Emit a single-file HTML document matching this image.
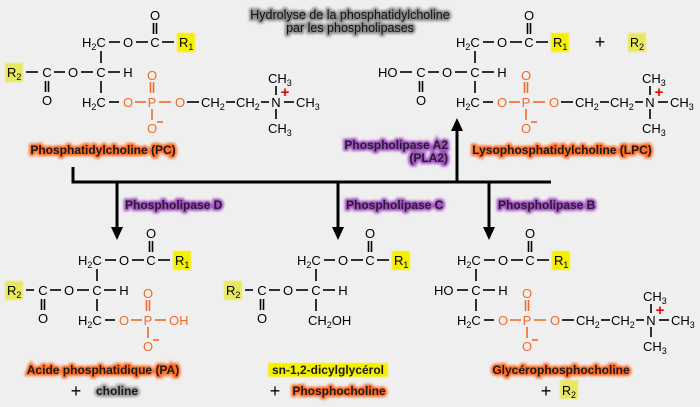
<!DOCTYPE html>
<html><head><meta charset="utf-8"><style>
html,body{margin:0;padding:0;background:#efefef}
svg{display:block}
text{font-family:"Liberation Sans",sans-serif}
</style></head><body>
<svg width="700" height="407" viewBox="0 0 700 407" xmlns="http://www.w3.org/2000/svg">
<defs>
<filter id="blur" x="-20%" y="-50%" width="140%" height="200%"><feGaussianBlur stdDeviation="1.3"/></filter>
<filter id="blur2" x="-20%" y="-50%" width="140%" height="200%"><feGaussianBlur stdDeviation="0.8"/></filter>
</defs>
<rect width="700" height="407" fill="#efefef"/>

<!-- Title -->
<g font-size="12.5" text-anchor="middle">
<text x="350" y="19" stroke="#888" stroke-width="4" fill="#888" filter="url(#blur)">Hydrolyse de la phosphatidylcholine</text>
<text x="350" y="32" stroke="#888" stroke-width="4" fill="#888" filter="url(#blur)">par les phospholipases</text>
<text x="350" y="19" fill="#111">Hydrolyse de la phosphatidylcholine</text>
<text x="350" y="32" fill="#111">par les phospholipases</text>
</g>

<!-- connectors -->
<g stroke="#000" stroke-width="3" fill="none">
<line x1="73" y1="167" x2="73" y2="183.5"/>
<line x1="71.5" y1="182" x2="551" y2="182"/>
<line x1="117" y1="182" x2="117" y2="228"/>
<line x1="338" y1="182" x2="338" y2="228"/>
<line x1="489" y1="182" x2="489" y2="228"/>
<line x1="457" y1="182" x2="457" y2="130"/>
</g>
<g fill="#000">
<polygon points="111,227 123,227 117,240"/>
<polygon points="332,227 344,227 338,240"/>
<polygon points="483,227 495,227 489,240"/>
<polygon points="451,131 463,131 457,118"/>
</g>

<!-- enzyme labels -->
<g font-size="12" font-weight="bold">
<g stroke="#a050c0" stroke-width="4" fill="#a050c0" filter="url(#blur)">
<text x="125" y="209">Phospholipase D</text>
<text x="346" y="209">Phospholipase C</text>
<text x="498" y="209">Phospholipase B</text>
<text x="448" y="149" text-anchor="end">Phospholipase A2</text>
<text x="448" y="162" text-anchor="end">(PLA2)</text>
</g>
<g fill="#2a1a30">
<text x="125" y="209">Phospholipase D</text>
<text x="346" y="209">Phospholipase C</text>
<text x="498" y="209">Phospholipase B</text>
<text x="448" y="149" text-anchor="end">Phospholipase A2</text>
<text x="448" y="162" text-anchor="end">(PLA2)</text>
</g>
</g>

<!-- compound labels -->
<g font-size="12" font-weight="bold" text-anchor="middle">
<g stroke="#ff6a20" stroke-width="4" fill="#ff6a20" filter="url(#blur)">
<text x="103" y="154">Phosphatidylcholine (PC)</text>
<text x="562" y="154">Lysophosphatidylcholine (LPC)</text>
<text x="103" y="374">Acide phosphatidique (PA)</text>
<text x="561" y="374">Glycérophosphocholine</text>
<text x="339" y="395">Phosphocholine</text>
</g>
<g stroke="#999" stroke-width="4" fill="#999" filter="url(#blur)">
<text x="117" y="395">choline</text>
</g>
<rect x="268" y="363" width="120" height="14" fill="#f4f000" filter="url(#blur2)"/>
<g fill="#1a1a1a">
<text x="103" y="154">Phosphatidylcholine (PC)</text>
<text x="562" y="154">Lysophosphatidylcholine (LPC)</text>
<text x="103" y="374">Acide phosphatidique (PA)</text>
<text x="561" y="374">Glycérophosphocholine</text>
<text x="339" y="395">Phosphocholine</text>
<text x="117" y="395">choline</text>
<text x="328" y="374">sn-1,2-dicylglycérol</text>
</g>
</g>
<g font-size="18" fill="#000" text-anchor="middle">
<text x="76" y="397">+</text>
<text x="275" y="397">+</text>
<text x="546" y="397">+</text>
<text x="600" y="48">+</text>
</g>
<g font-size="12.5">
<rect x="560" y="380" width="18" height="19" fill="#e8e860" filter="url(#blur2)"/>
<text x="562" y="395">R<tspan font-size="9" dy="3">2</tspan></text>
<rect x="628" y="33" width="18" height="19" fill="#e8e860" filter="url(#blur2)"/>
<text x="630" y="47">R<tspan font-size="9" dy="3">2</tspan></text>
</g>

<!-- ===== PC molecule ===== -->
<g>
<g font-size="13" fill="#000">
<text x="82" y="47">H<tspan font-size="9" dy="3">2</tspan><tspan dy="-3">C</tspan></text>
<text x="128" y="47" text-anchor="middle">O</text>
<text x="155" y="47" text-anchor="middle">C</text>
<text x="155" y="20" text-anchor="middle">O</text>
<rect x="177" y="33" width="18" height="19" fill="#f4f000" filter="url(#blur2)"/>
<text x="179" y="47">R<tspan font-size="9" dy="3">1</tspan></text>
<rect x="5" y="63" width="18" height="19" fill="#e8e860" filter="url(#blur2)"/>
<text x="7" y="77">R<tspan font-size="9" dy="3">2</tspan></text>
<text x="47" y="77" text-anchor="middle">C</text>
<text x="73" y="77" text-anchor="middle">O</text>
<text x="101" y="77" text-anchor="middle">C</text>
<text x="128" y="77" text-anchor="middle">H</text>
<text x="47" y="105" text-anchor="middle">O</text>
<text x="82" y="107">H<tspan font-size="9" dy="3">2</tspan><tspan dy="-3">C</tspan></text>
<text x="201" y="107">CH<tspan font-size="9" dy="3">2</tspan></text>
<text x="236" y="107">CH<tspan font-size="9" dy="3">2</tspan></text>
<text x="276" y="107" text-anchor="middle">N</text>
<text x="296" y="107">CH<tspan font-size="9" dy="3">3</tspan></text>
<text x="268" y="83">CH<tspan font-size="9" dy="3">3</tspan></text>
<text x="268" y="133">CH<tspan font-size="9" dy="3">3</tspan></text>
</g>
<g fill="#f26a2a" font-size="13" text-anchor="middle">
<text x="128" y="107">O</text><text x="152" y="107">P</text><text x="180" y="107">O</text>
<text x="152" y="80">O</text><text x="152" y="133">O</text>
</g>
<text x="285" y="97" font-size="15" font-weight="bold" fill="#e00" text-anchor="middle">+</text>
<g stroke="#000" stroke-width="1.6">
<line x1="109" y1="42" x2="120" y2="42"/><line x1="136" y1="42" x2="148" y2="42"/><line x1="162" y1="42" x2="174" y2="42"/>
<line x1="153.5" y1="23" x2="153.5" y2="34"/><line x1="156.5" y1="23" x2="156.5" y2="34"/>
<line x1="101" y1="51" x2="101" y2="63"/><line x1="101" y1="81" x2="101" y2="93"/>
<line x1="26" y1="72" x2="38" y2="72"/><line x1="54" y1="72" x2="65" y2="72"/><line x1="81" y1="72" x2="93" y2="72"/><line x1="108" y1="72" x2="120" y2="72"/>
<line x1="45.5" y1="81" x2="45.5" y2="92"/><line x1="48.5" y1="81" x2="48.5" y2="92"/>
<line x1="109" y1="102" x2="119" y2="102"/>
<line x1="187" y1="102" x2="199" y2="102"/><line x1="226" y1="102" x2="235" y2="102"/><line x1="261" y1="102" x2="269" y2="102"/><line x1="284" y1="102" x2="294" y2="102"/>
<line x1="276" y1="86" x2="276" y2="95"/><line x1="276" y1="109" x2="276" y2="119"/>
</g>
<g stroke="#f26a2a" stroke-width="1.6">
<line x1="135" y1="102" x2="146" y2="102"/><line x1="159" y1="102" x2="171" y2="102"/>
<line x1="150.5" y1="82" x2="150.5" y2="93"/><line x1="153.5" y1="82" x2="153.5" y2="93"/>
<line x1="152" y1="109" x2="152" y2="120"/><line x1="157" y1="122" x2="163" y2="122"/>
</g>
</g>

<!-- ===== LPC ===== -->
<g transform="translate(374,0)">
<g font-size="13" fill="#000">
<text x="82" y="47">H<tspan font-size="9" dy="3">2</tspan><tspan dy="-3">C</tspan></text>
<text x="128" y="47" text-anchor="middle">O</text>
<text x="155" y="47" text-anchor="middle">C</text>
<text x="155" y="20" text-anchor="middle">O</text>
<rect x="177" y="33" width="18" height="19" fill="#f4f000" filter="url(#blur2)"/>
<text x="179" y="47">R<tspan font-size="9" dy="3">1</tspan></text>
<text x="4" y="77">HO</text>
<text x="47" y="77" text-anchor="middle">C</text>
<text x="73" y="77" text-anchor="middle">O</text>
<text x="101" y="77" text-anchor="middle">C</text>
<text x="128" y="77" text-anchor="middle">H</text>
<text x="47" y="105" text-anchor="middle">O</text>
<text x="82" y="107">H<tspan font-size="9" dy="3">2</tspan><tspan dy="-3">C</tspan></text>
<text x="201" y="107">CH<tspan font-size="9" dy="3">2</tspan></text>
<text x="236" y="107">CH<tspan font-size="9" dy="3">2</tspan></text>
<text x="276" y="107" text-anchor="middle">N</text>
<text x="296" y="107">CH<tspan font-size="9" dy="3">3</tspan></text>
<text x="268" y="83">CH<tspan font-size="9" dy="3">3</tspan></text>
<text x="268" y="133">CH<tspan font-size="9" dy="3">3</tspan></text>
</g>
<g fill="#f26a2a" font-size="13" text-anchor="middle">
<text x="128" y="107">O</text><text x="152" y="107">P</text><text x="180" y="107">O</text>
<text x="152" y="80">O</text><text x="152" y="133">O</text>
</g>
<text x="285" y="97" font-size="15" font-weight="bold" fill="#e00" text-anchor="middle">+</text>
<g stroke="#000" stroke-width="1.6">
<line x1="109" y1="42" x2="120" y2="42"/><line x1="136" y1="42" x2="148" y2="42"/><line x1="162" y1="42" x2="174" y2="42"/>
<line x1="153.5" y1="23" x2="153.5" y2="34"/><line x1="156.5" y1="23" x2="156.5" y2="34"/>
<line x1="101" y1="51" x2="101" y2="63"/><line x1="101" y1="81" x2="101" y2="93"/>
<line x1="26" y1="72" x2="38" y2="72"/><line x1="54" y1="72" x2="65" y2="72"/><line x1="81" y1="72" x2="93" y2="72"/><line x1="108" y1="72" x2="120" y2="72"/>
<line x1="45.5" y1="81" x2="45.5" y2="92"/><line x1="48.5" y1="81" x2="48.5" y2="92"/>
<line x1="109" y1="102" x2="119" y2="102"/>
<line x1="187" y1="102" x2="199" y2="102"/><line x1="226" y1="102" x2="235" y2="102"/><line x1="261" y1="102" x2="269" y2="102"/><line x1="284" y1="102" x2="294" y2="102"/>
<line x1="276" y1="86" x2="276" y2="95"/><line x1="276" y1="109" x2="276" y2="119"/>
</g>
<g stroke="#f26a2a" stroke-width="1.6">
<line x1="135" y1="102" x2="146" y2="102"/><line x1="159" y1="102" x2="171" y2="102"/>
<line x1="150.5" y1="82" x2="150.5" y2="93"/><line x1="153.5" y1="82" x2="153.5" y2="93"/>
<line x1="152" y1="109" x2="152" y2="120"/><line x1="157" y1="122" x2="163" y2="122"/>
</g>
</g>

<!-- ===== PA ===== -->
<g transform="translate(-4,218)">
<g font-size="13" fill="#000">
<text x="82" y="47">H<tspan font-size="9" dy="3">2</tspan><tspan dy="-3">C</tspan></text>
<text x="128" y="47" text-anchor="middle">O</text>
<text x="155" y="47" text-anchor="middle">C</text>
<text x="155" y="20" text-anchor="middle">O</text>
<rect x="177" y="33" width="18" height="19" fill="#f4f000" filter="url(#blur2)"/>
<text x="179" y="47">R<tspan font-size="9" dy="3">1</tspan></text>
<rect x="9" y="63" width="18" height="19" fill="#e8e860" filter="url(#blur2)"/>
<text x="11" y="77">R<tspan font-size="9" dy="3">2</tspan></text>
<text x="47" y="77" text-anchor="middle">C</text>
<text x="73" y="77" text-anchor="middle">O</text>
<text x="101" y="77" text-anchor="middle">C</text>
<text x="128" y="77" text-anchor="middle">H</text>
<text x="47" y="105" text-anchor="middle">O</text>
<text x="82" y="107">H<tspan font-size="9" dy="3">2</tspan><tspan dy="-3">C</tspan></text>
</g>
<g fill="#f26a2a" font-size="13" text-anchor="middle">
<text x="128" y="107">O</text><text x="152" y="107">P</text><text x="173" y="107" text-anchor="start">OH</text>
<text x="152" y="80">O</text><text x="152" y="133">O</text>
</g>
<g stroke="#000" stroke-width="1.6">
<line x1="109" y1="42" x2="120" y2="42"/><line x1="136" y1="42" x2="148" y2="42"/><line x1="162" y1="42" x2="174" y2="42"/>
<line x1="153.5" y1="23" x2="153.5" y2="34"/><line x1="156.5" y1="23" x2="156.5" y2="34"/>
<line x1="101" y1="51" x2="101" y2="63"/><line x1="101" y1="81" x2="101" y2="93"/>
<line x1="30" y1="72" x2="38" y2="72"/><line x1="54" y1="72" x2="65" y2="72"/><line x1="81" y1="72" x2="93" y2="72"/><line x1="108" y1="72" x2="120" y2="72"/>
<line x1="45.5" y1="81" x2="45.5" y2="92"/><line x1="48.5" y1="81" x2="48.5" y2="92"/>
<line x1="109" y1="102" x2="119" y2="102"/>
</g>
<g stroke="#f26a2a" stroke-width="1.6">
<line x1="135" y1="102" x2="146" y2="102"/><line x1="159" y1="102" x2="170" y2="102"/>
<line x1="150.5" y1="82" x2="150.5" y2="93"/><line x1="153.5" y1="82" x2="153.5" y2="93"/>
<line x1="152" y1="109" x2="152" y2="120"/><line x1="157" y1="122" x2="163" y2="122"/>
</g>
</g>

<!-- ===== DAG ===== -->
<g transform="translate(215,218)">
<g font-size="13" fill="#000">
<text x="82" y="47">H<tspan font-size="9" dy="3">2</tspan><tspan dy="-3">C</tspan></text>
<text x="128" y="47" text-anchor="middle">O</text>
<text x="155" y="47" text-anchor="middle">C</text>
<text x="155" y="20" text-anchor="middle">O</text>
<rect x="177" y="33" width="18" height="19" fill="#f4f000" filter="url(#blur2)"/>
<text x="179" y="47">R<tspan font-size="9" dy="3">1</tspan></text>
<rect x="9" y="63" width="18" height="19" fill="#e8e860" filter="url(#blur2)"/>
<text x="11" y="77">R<tspan font-size="9" dy="3">2</tspan></text>
<text x="47" y="77" text-anchor="middle">C</text>
<text x="73" y="77" text-anchor="middle">O</text>
<text x="101" y="77" text-anchor="middle">C</text>
<text x="128" y="77" text-anchor="middle">H</text>
<text x="47" y="105" text-anchor="middle">O</text>
<text x="93" y="107">CH<tspan font-size="9" dy="3">2</tspan><tspan dy="-3">OH</tspan></text>
</g>
<g stroke="#000" stroke-width="1.6">
<line x1="109" y1="42" x2="120" y2="42"/><line x1="136" y1="42" x2="148" y2="42"/><line x1="162" y1="42" x2="174" y2="42"/>
<line x1="153.5" y1="23" x2="153.5" y2="34"/><line x1="156.5" y1="23" x2="156.5" y2="34"/>
<line x1="101" y1="51" x2="101" y2="63"/><line x1="101" y1="81" x2="101" y2="93"/>
<line x1="30" y1="72" x2="38" y2="72"/><line x1="54" y1="72" x2="65" y2="72"/><line x1="81" y1="72" x2="93" y2="72"/><line x1="108" y1="72" x2="120" y2="72"/>
<line x1="45.5" y1="81" x2="45.5" y2="92"/><line x1="48.5" y1="81" x2="48.5" y2="92"/>
</g>
</g>

<!-- ===== GPC ===== -->
<g transform="translate(375,218)">
<g font-size="13" fill="#000">
<text x="82" y="47">H<tspan font-size="9" dy="3">2</tspan><tspan dy="-3">C</tspan></text>
<text x="128" y="47" text-anchor="middle">O</text>
<text x="155" y="47" text-anchor="middle">C</text>
<text x="155" y="20" text-anchor="middle">O</text>
<rect x="177" y="33" width="18" height="19" fill="#f4f000" filter="url(#blur2)"/>
<text x="179" y="47">R<tspan font-size="9" dy="3">1</tspan></text>
<text x="59" y="77">HO</text>
<text x="101" y="77" text-anchor="middle">C</text>
<text x="128" y="77" text-anchor="middle">H</text>
<text x="82" y="107">H<tspan font-size="9" dy="3">2</tspan><tspan dy="-3">C</tspan></text>
<text x="201" y="107">CH<tspan font-size="9" dy="3">2</tspan></text>
<text x="236" y="107">CH<tspan font-size="9" dy="3">2</tspan></text>
<text x="276" y="107" text-anchor="middle">N</text>
<text x="296" y="107">CH<tspan font-size="9" dy="3">3</tspan></text>
<text x="268" y="83">CH<tspan font-size="9" dy="3">3</tspan></text>
<text x="268" y="133">CH<tspan font-size="9" dy="3">3</tspan></text>
</g>
<g fill="#f26a2a" font-size="13" text-anchor="middle">
<text x="128" y="107">O</text><text x="152" y="107">P</text><text x="180" y="107">O</text>
<text x="152" y="80">O</text><text x="152" y="133">O</text>
</g>
<text x="285" y="97" font-size="15" font-weight="bold" fill="#e00" text-anchor="middle">+</text>
<g stroke="#000" stroke-width="1.6">
<line x1="109" y1="42" x2="120" y2="42"/><line x1="136" y1="42" x2="148" y2="42"/><line x1="162" y1="42" x2="174" y2="42"/>
<line x1="153.5" y1="23" x2="153.5" y2="34"/><line x1="156.5" y1="23" x2="156.5" y2="34"/>
<line x1="101" y1="51" x2="101" y2="63"/><line x1="101" y1="81" x2="101" y2="93"/>
<line x1="82" y1="72" x2="93" y2="72"/><line x1="108" y1="72" x2="120" y2="72"/>
<line x1="109" y1="102" x2="119" y2="102"/>
<line x1="187" y1="102" x2="199" y2="102"/><line x1="226" y1="102" x2="235" y2="102"/><line x1="261" y1="102" x2="269" y2="102"/><line x1="284" y1="102" x2="294" y2="102"/>
<line x1="276" y1="86" x2="276" y2="95"/><line x1="276" y1="109" x2="276" y2="119"/>
</g>
<g stroke="#f26a2a" stroke-width="1.6">
<line x1="135" y1="102" x2="146" y2="102"/><line x1="159" y1="102" x2="171" y2="102"/>
<line x1="150.5" y1="82" x2="150.5" y2="93"/><line x1="153.5" y1="82" x2="153.5" y2="93"/>
<line x1="152" y1="109" x2="152" y2="120"/><line x1="157" y1="122" x2="163" y2="122"/>
</g>
</g>
</svg>
</body></html>
